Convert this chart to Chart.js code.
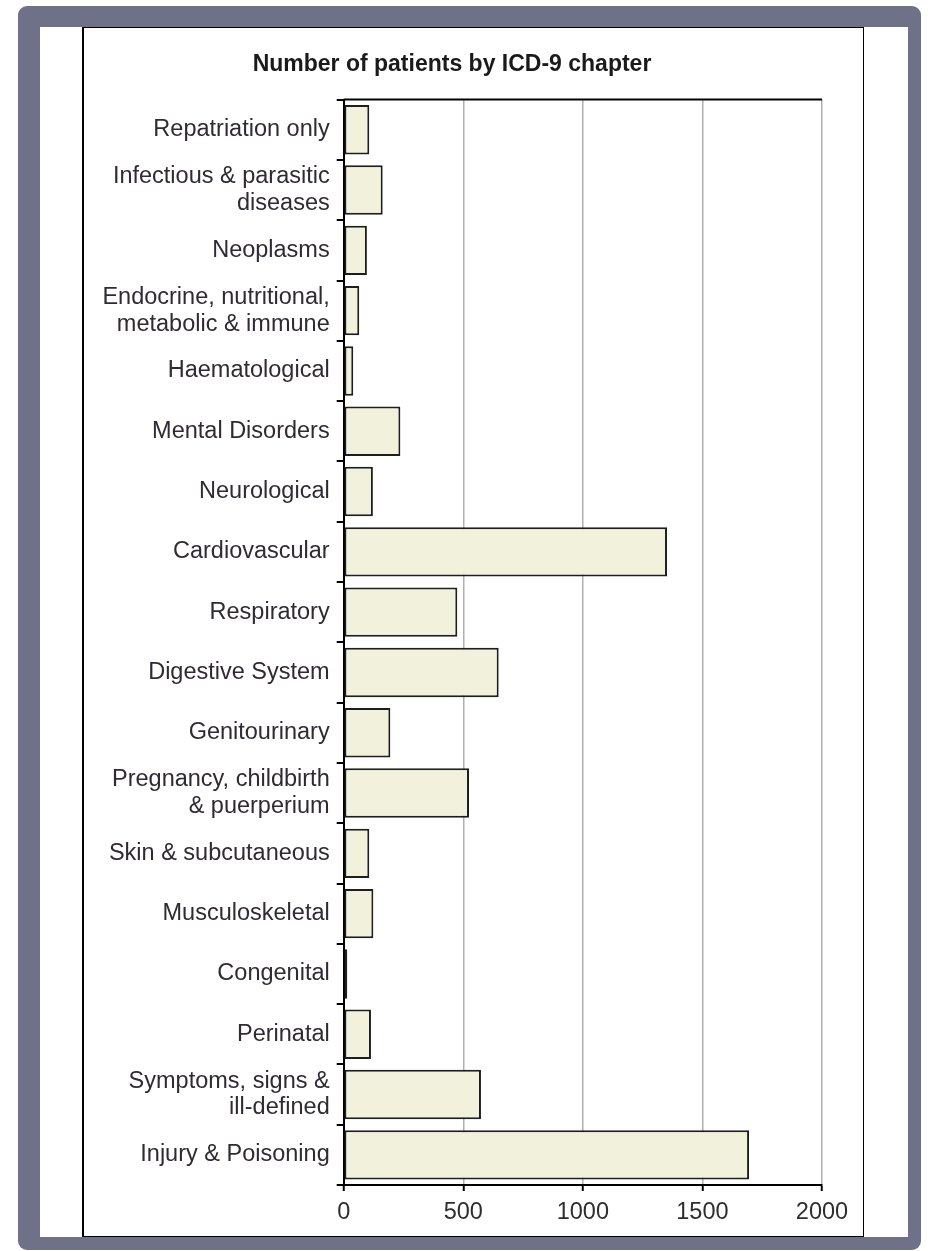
<!DOCTYPE html>
<html>
<head>
<meta charset="utf-8">
<script src="https://cdn.jsdelivr.net/npm/chart.js@4.4.1/dist/chart.umd.min.js"></script>
<style>
  html, body { margin: 0; padding: 0; background: #ffffff; }
  body { width: 930px; height: 1251px; position: relative; overflow: hidden; }
  .frame {
    position: absolute; left: 18px; top: 6px; width: 903px; height: 1244px;
    background: #6f7189; border-radius: 9px;
  }
  .sheet {
    position: absolute; left: 40px; top: 27px; width: 868px; height: 1210px;
    background: #ffffff;
  }
  .box {
    position: absolute; left: 82px; top: 27px; width: 779px; height: 1208px;
    border: 1px solid #000; border-left-width: 2px;
  }
  #bars { position: absolute; left: 82px; top: 27px; }
</style>
</head>
<body>
<div class="frame"></div>
<div class="sheet"></div>
<div class="box"></div>
<canvas id="bars" width="781" height="1210"></canvas>
<script>
const chapters = [
  "Repatriation only",
  ["Infectious & parasitic", "diseases"],
  "Neoplasms",
  ["Endocrine, nutritional,", "metabolic & immune"],
  "Haematological",
  "Mental Disorders",
  "Neurological",
  "Cardiovascular",
  "Respiratory",
  "Digestive System",
  "Genitourinary",
  ["Pregnancy, childbirth", "& puerperium"],
  "Skin & subcutaneous",
  "Musculoskeletal",
  "Congenital",
  "Perinatal",
  ["Symptoms, signs &", "ill-defined"],
  "Injury & Poisoning"
];
const patients = [107, 163, 97, 65, 40, 237, 122, 1352, 475, 648, 195, 524, 107, 124, 15, 114, 574, 1695];
const axisMax = 2000;
const axisStep = 500;

const FONT = '"Liberation Sans", Arial, Helvetica, sans-serif';

// black line along the top of the plot
const topLine = {
  id: 'topLine',
  afterDraw(chart) {
    const { ctx, chartArea } = chart;
    ctx.save();
    ctx.strokeStyle = '#000';
    ctx.lineWidth = 2;
    ctx.beginPath();
    ctx.moveTo(chartArea.left, chartArea.top);
    ctx.lineTo(chartArea.right, chartArea.top);
    ctx.stroke();
    ctx.restore();
  }
};

new Chart(document.getElementById('bars'), {
  type: 'bar',
  data: {
    labels: chapters,
    datasets: [{
      data: patients,
      backgroundColor: '#f2f2dc',
      borderColor: '#1e1e1e',
      borderWidth: 2,
      borderSkipped: false,
      barPercentage: 0.82,
      categoryPercentage: 1
    }]
  },
  options: {
    indexAxis: 'y',
    responsive: false,
    animation: false,
    layout: { padding: { left: 0, right: 41, top: 0, bottom: 0 } },
    plugins: {
      legend: { display: false },
      tooltip: { enabled: false },
      title: {
        display: true,
        text: 'Number of patients by ICD-9 chapter',
        color: '#1a1a1a',
        font: { family: FONT, size: 23, weight: 'bold' },
        padding: { top: 24, bottom: 21 }
      }
    },
    scales: {
      x: {
        min: 0,
        max: axisMax,
        ticks: {
          stepSize: axisStep,
          color: '#2e2e2e',
          padding: 7,
          font: { family: FONT, size: 23.5 },
          callback: (v) => String(v)
        },
        grid: {
          color: '#b0b0b0',
          lineWidth: 1.5,
          tickColor: '#000',
          tickLength: 6,
          tickWidth: 2
        },
        border: { color: '#000', width: 2 },
        afterFit(scale) { scale.height = 52; }
      },
      y: {
        ticks: {
          color: '#302a35',
          padding: 7,
          font: { family: FONT, size: 23.5, lineHeight: 1.14 }
        },
        grid: {
          drawOnChartArea: false,
          color: '#000',
          lineWidth: 2,
          tickLength: 7
        },
        border: { color: '#000', width: 2 },
        afterFit(scale) { scale.width = 261.7; }
      }
    }
  },
  plugins: [topLine]
});
</script>
</body>
</html>
